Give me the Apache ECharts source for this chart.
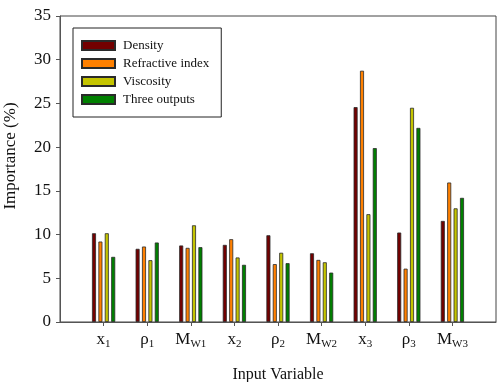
<!DOCTYPE html>
<html>
<head>
<meta charset="utf-8">
<script src="https://cdn.jsdelivr.net/npm/echarts@6/dist/echarts.min.js"></script>
<style>html,body{margin:0;padding:0;background:#fff}#c{width:500px;height:382px}</style>
</head>
<body>
<div id="c"></div>
<script>
var catMain = ['x', 'ρ', 'M', 'x', 'ρ', 'M', 'x', 'ρ', 'M'];
var catSub = ['1', '1', 'W1', '2', '2', 'W2', '3', '3', 'W3'];
var seriesNames = ['Density', 'Refractive index', 'Viscosity', 'Three outputs'];
var density = [10.15, 8.37, 8.75, 8.82, 9.92, 7.86, 24.58, 10.23, 11.56];
var refractive = [9.2, 8.63, 8.48, 9.47, 6.62, 7.1, 28.74, 6.1, 15.95];
var viscosity = [10.15, 7.07, 11.06, 7.38, 7.92, 6.83, 12.33, 24.5, 13.0];
var threeOutputs = [7.45, 9.09, 8.56, 6.54, 6.73, 5.65, 19.89, 22.2, 14.2];
var yTicks = [0, 5, 10, 15, 20, 25, 30, 35];

var colors = ['#730000', '#ff8000', '#c4c400', '#008000'];
var serif = 'Liberation Serif, Times New Roman, serif';

// category list with empty slots at both ends
var cats = [''].concat(catMain.map(function (m, i) { return m + '_' + catSub[i]; })).concat(['']);
function pad(arr) { return [null].concat(arr).concat([null]); }
var allData = [density, refractive, viscosity, threeOutputs];

var chart = echarts.init(document.getElementById('c'));
chart.setOption({
  animation: false,
  backgroundColor: '#fff',
  grid: { left: 60, right: 4, top: 16, bottom: 60, show: true, borderColor: '#444', borderWidth: 1,
          containLabel: false, outerBoundsMode: 'none' },
  legend: {
    orient: 'vertical', left: 73, top: 28,
    itemWidth: 33, itemHeight: 9, itemGap: 5,
    padding: [11, 12, 11, 8],
    borderColor: '#222', borderWidth: 1,
    icon: 'rect',
    textStyle: { fontFamily: serif, fontSize: 13, color: '#111', padding: [0, 0, 0, 3] },
    data: seriesNames
  },
  xAxis: {
    type: 'category', data: cats, boundaryGap: false,
    axisLine: { lineStyle: { color: '#555', width: 1 } },
    axisTick: { length: 4, lineStyle: { color: '#555' }, interval: function (i, v) { return v !== ''; } },
    axisLabel: {
      margin: 8, interval: 0,
      formatter: function (v) {
        if (!v) return '';
        var p = v.split('_');
        return '{m|' + p[0] + '}{s|' + p[1] + '}';
      },
      rich: {
        m: { fontFamily: serif, fontSize: 17, color: '#111', lineHeight: 18, verticalAlign: 'middle' },
        s: { fontFamily: serif, fontSize: 11, color: '#111', lineHeight: 20, verticalAlign: 'bottom' }
      }
    },
    name: 'Input Variable', nameLocation: 'middle', nameGap: 45,
    nameTextStyle: { fontFamily: serif, fontSize: 16, color: '#111' }
  },
  yAxis: {
    type: 'value', min: 0, max: 35, interval: 5,
    axisLine: { show: true, lineStyle: { color: '#555', width: 1 } },
    axisTick: { show: true, length: 4, lineStyle: { color: '#555' } },
    splitLine: { show: false },
    axisLabel: {
      margin: 9, fontFamily: serif, fontSize: 17, color: '#111',
      formatter: function (v) { return yTicks.indexOf(v) >= 0 ? String(v) : ''; }
    },
    name: 'Importance (%)', nameLocation: 'middle', nameGap: 41, nameRotate: 90,
    nameTextStyle: { fontFamily: serif, fontSize: 17, color: '#111', padding: [0, 0, 0, 26] }
  },
  series: seriesNames.map(function (n, k) {
    return {
      name: n, type: 'bar', data: pad(allData[k]),
      barWidth: 4, barGap: '60%',
      itemStyle: { color: colors[k], borderColor: '#2a2a2a', borderWidth: 0.8 }
    };
  })
});
</script>
</body>
</html>
